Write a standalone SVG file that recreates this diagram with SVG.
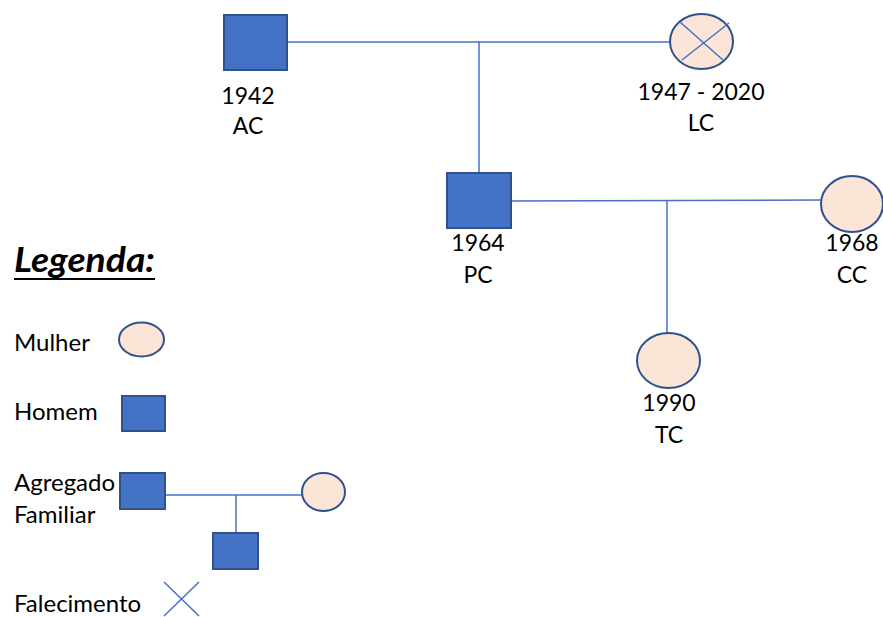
<svg xmlns="http://www.w3.org/2000/svg" width="883" height="617" viewBox="0 0 883 617">
<defs>
<style>
.m{fill:#4472C4;stroke:#2F528F;stroke-width:2}
.f{fill:#FBE5D6;stroke:#2F528F;stroke-width:2}
.c{stroke:#4472C4;stroke-width:1.5;fill:none}
text{font-family:Lato,"Open Sans","Liberation Sans",sans-serif;font-size:23px;fill:#000}
.lb{text-anchor:middle}
.lg{font-size:24px}
</style>
</defs>
<rect width="883" height="617" fill="#fff"/>
<g id="connectors">
<line class="c" x1="287" y1="42" x2="670" y2="42"/>
<line class="c" x1="479" y1="42" x2="479" y2="173"/>
<line class="c" x1="511" y1="201" x2="822" y2="200"/>
<line class="c" x1="667" y1="201" x2="667" y2="333"/>
</g>
<g id="AC">
<rect class="m" x="224" y="15" width="63" height="55"/>
<text class="lb" x="248" y="104">1942</text>
<text class="lb" x="248" y="134">AC</text>
</g>
<g id="LC">
<ellipse class="f" cx="701.5" cy="41.5" rx="31.5" ry="27.5"/>
<line class="c" x1="680" y1="22" x2="723" y2="60"/>
<line class="c" x1="729" y1="23" x2="682" y2="60"/>
<text class="lb" x="701" y="100">1947 - 2020</text>
<text class="lb" x="701" y="131">LC</text>
</g>
<g id="PC">
<rect class="m" x="447" y="173" width="64" height="55"/>
<text class="lb" x="478" y="251">1964</text>
<text class="lb" x="478" y="283">PC</text>
</g>
<g id="CC">
<ellipse class="f" cx="852" cy="204" rx="31" ry="28"/>
<text class="lb" x="852" y="251">1968</text>
<text class="lb" x="852" y="283">CC</text>
</g>
<g id="TC">
<ellipse class="f" cx="668.5" cy="360.5" rx="31.5" ry="27.5"/>
<text class="lb" x="669" y="411">1990</text>
<text class="lb" x="669" y="443">TC</text>
</g>
<g id="legend">
<text x="14" y="272" textLength="141" lengthAdjust="spacingAndGlyphs" style="font-size:34px;font-weight:bold;font-style:italic">Legenda:</text>
<line x1="14" y1="279" x2="155" y2="279" stroke="#000" stroke-width="2"/>
<text class="lg" x="14" y="351">Mulher</text>
<ellipse class="f" cx="141.5" cy="339.5" rx="22.5" ry="17"/>
<text class="lg" x="14" y="420">Homem</text>
<rect class="m" x="122" y="396" width="43" height="35"/>
<text class="lg" x="14" y="491">Agregado</text>
<text class="lg" x="14" y="523">Familiar</text>
<line class="c" x1="165" y1="495" x2="302" y2="495"/>
<line class="c" x1="236" y1="495" x2="236" y2="533"/>
<rect class="m" x="120" y="473" width="45" height="36"/>
<ellipse class="f" cx="323.5" cy="492" rx="21.5" ry="19"/>
<rect class="m" x="213" y="533" width="45" height="36"/>
<text class="lg" x="14" y="612">Falecimento</text>
<line class="c" x1="164" y1="582" x2="199" y2="616"/>
<line class="c" x1="199" y1="582" x2="164" y2="616"/>
</g>
</svg>
